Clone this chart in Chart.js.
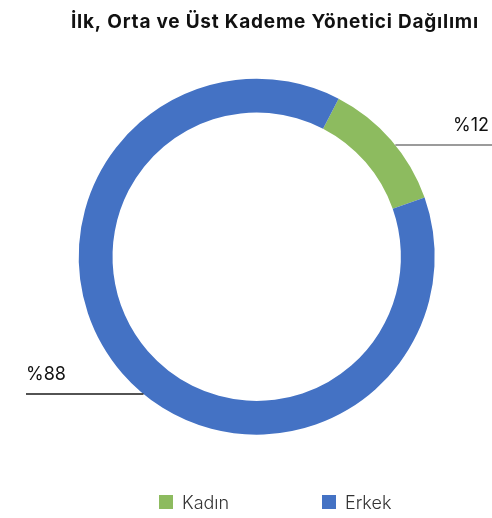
<!DOCTYPE html>
<html lang="tr">
<head>
<meta charset="utf-8">
<title>Yönetici Dağılımı</title>
<script src="https://cdn.jsdelivr.net/npm/chart.js@4"></script>
<style>
  html, body { margin: 0; padding: 0; background: #fff; }
  #wrap { position: relative; width: 492px; height: 518px; }
</style>
</head>
<body>
<div id="wrap"><canvas id="chart" width="492" height="518"></canvas></div>
<script>
// Kadın / Erkek share of first, middle and upper level managers.
const title = 'İlk, Orta ve Üst Kademe Yönetici Dağılımı';
const labels = ['Kadın', 'Erkek'];
const values = [12, 88];
const colors = ['#8dbb5f', '#4472c4'];

const FONT = 'Inter, "Noto Sans", sans-serif';

// where along each slice the leader line leaves the ring (0 = start, 1 = end)
const leaderAt = [0.55, 0.47];

// draw text with letter spacing so it spans `width` px
function fitText(ctx, text, x, y, width) {
  const natural = ctx.measureText(text).width;
  const extra = (width - natural) / Math.max(text.length - 1, 1);
  ctx.letterSpacing = extra.toFixed(2) + 'px';
  ctx.fillText(text, x, y);
  ctx.letterSpacing = '0px';
}

const overlay = {
  id: 'overlay',
  afterDraw(chart) {
    const { ctx } = chart;
    const W = chart.width;
    ctx.save();

    // title
    ctx.fillStyle = '#111';
    ctx.font = `700 19px ${FONT}`;
    ctx.textBaseline = 'alphabetic';
    ctx.textAlign = 'left';
    fitText(ctx, title, 71, 28, 407);

    // leader lines + percentage labels
    const arcs = chart.getDatasetMeta(0).data;
    arcs.forEach((arc, i) => {
      const { x, y, startAngle, endAngle, outerRadius } = arc.getProps(['x', 'y', 'startAngle', 'endAngle', 'outerRadius'], true);
      const a = startAngle + (endAngle - startAngle) * leaderAt[i];
      const px = x + Math.cos(a) * outerRadius;
      const py = y + Math.sin(a) * outerRadius;
      const right = px > x;
      ctx.beginPath();
      ctx.lineWidth = 1.5;
      ctx.strokeStyle = right ? '#7a7a7a' : '#1a1a1a';
      ctx.moveTo(px, py);
      ctx.lineTo(right ? W : 26, py);
      ctx.stroke();

      ctx.fillStyle = '#111';
      ctx.font = `400 18px ${FONT}`;
      ctx.textAlign = right ? 'right' : 'left';
      ctx.fillText('%' + values[i], right ? 489 : 26, py - 14);
    });

    // legend
    const legendX = [159, 322];
    ctx.font = `300 18px ${FONT}`;
    ctx.textAlign = 'left';
    labels.forEach((l, i) => {
      ctx.fillStyle = colors[i];
      ctx.fillRect(legendX[i], 495, 14, 14);
      ctx.fillStyle = '#333';
      ctx.fillText(l, legendX[i] + 23, 509);
    });
    ctx.restore();
  },
};

new Chart(document.getElementById('chart'), {
  type: 'doughnut',
  data: {
    labels,
    datasets: [{
      data: values,
      backgroundColor: colors,
      borderWidth: 0,
      hoverOffset: 0,
    }],
  },
  options: {
    responsive: false,
    animation: false,
    rotation: 27.4,
    cutout: '81%',
    layout: { padding: { left: 78.7, right: 57.3, top: 78.7, bottom: 83.3 } },
    plugins: {
      legend: { display: false },
      title: { display: false },
      tooltip: { enabled: false },
    },
  },
  plugins: [overlay],
});
</script>
</body>
</html>
